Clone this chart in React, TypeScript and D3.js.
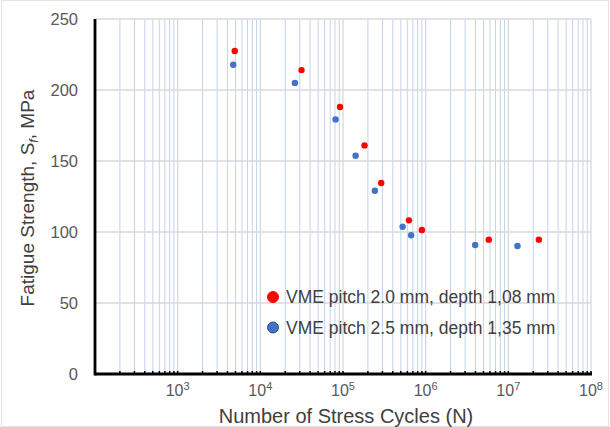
import React, { useRef, useEffect } from 'react';
import * as d3 from 'd3';

// series 1 (red)
const redName = 'VME pitch 2.0 mm, depth 1,08 mm';
const redCycles = [4900, 31500, 92000, 182000, 290000, 627000, 900000, 5800000, 23400000];
const redStrength = [227.5, 214, 188, 161, 134.5, 108.2, 101.4, 94.6, 94.6];

// series 2 (blue)
const blueName = 'VME pitch 2.5 mm, depth 1,35 mm';
const blueCycles = [4700, 26200, 81300, 142000, 243000, 526000, 668000, 3970000, 12900000];
const blueStrength = [217.8, 205, 179.3, 153.7, 129.1, 103.7, 97.7, 90.8, 90.1];

const yTicks = [0, 50, 100, 150, 200, 250];
const xDecadeExps = [3, 4, 5, 6, 7, 8];

const font = 'Liberation Sans, Arial, sans-serif';

const App = () => {
  const chartRef = useRef<SVGSVGElement | null>(null);

  useEffect(() => {
    if (!chartRef.current) return;
    const svg = d3.select(chartRef.current);
    svg.selectAll('*').remove();

    const width = 610;
    const height = 427;
    const margin = { top: 19, right: 19, bottom: 53, left: 95 };

    const x = d3.scaleLog()
      .domain([1e2, 1e8])
      .range([margin.left, width - margin.right]);
    const y = d3.scaleLinear()
      .domain([0, 250])
      .range([height - margin.bottom, margin.top]);

    // outer chart border
    svg.append('rect')
      .attr('x', 1.5).attr('y', 0.5)
      .attr('width', width - 3).attr('height', height - 1)
      .attr('fill', 'white')
      .attr('stroke', '#e3e3e3');

    const allTicks = x.ticks();
    const minor = allTicks.filter(t => {
      const e = Math.log10(t);
      return Math.abs(e - Math.round(e)) > 1e-6;
    });
    const major = allTicks.filter(t => !minor.includes(t) && t > 1e2);

    // minor vertical grid (light blue)
    svg.append('g').selectAll('line')
      .data(minor)
      .join('line')
      .attr('x1', d => x(d)).attr('x2', d => x(d))
      .attr('y1', y(250)).attr('y2', y(0))
      .attr('stroke', '#c2d3ee')
      .attr('stroke-width', 1);

    // horizontal grid
    svg.append('g').selectAll('line')
      .data(yTicks.filter(t => t > 0))
      .join('line')
      .attr('x1', x(1e2)).attr('x2', x(1e8))
      .attr('y1', d => y(d)).attr('y2', d => y(d))
      .attr('stroke', '#d9d9d9')
      .attr('stroke-width', 1.3);

    // major vertical grid
    svg.append('g').selectAll('line')
      .data(major)
      .join('line')
      .attr('x1', d => x(d)).attr('x2', d => x(d))
      .attr('y1', y(250)).attr('y2', y(0))
      .attr('stroke', '#d9d9d9')
      .attr('stroke-width', 1.3);

    // little tick marks along the bottom axis
    svg.append('g').selectAll('line')
      .data(allTicks.filter(t => t > 1e2))
      .join('line')
      .attr('x1', d => x(d)).attr('x2', d => x(d))
      .attr('y1', y(0) - 3).attr('y2', y(0))
      .attr('stroke', '#000')
      .attr('stroke-width', 1.5);

    // axis lines
    svg.append('line')
      .attr('x1', x(1e2)).attr('x2', x(1e8) + 1)
      .attr('y1', y(0)).attr('y2', y(0))
      .attr('stroke', '#000').attr('stroke-width', 2.8);
    svg.append('line')
      .attr('x1', x(1e2)).attr('x2', x(1e2))
      .attr('y1', y(250)).attr('y2', y(0) + 1.4)
      .attr('stroke', '#000').attr('stroke-width', 2.8);

    // y tick labels
    svg.append('g').selectAll('text')
      .data(yTicks)
      .join('text')
      .attr('x', 78)
      .attr('y', d => y(d))
      .attr('dy', '0.35em')
      .attr('text-anchor', 'end')
      .style('font-family', font)
      .style('font-size', '16.5px')
      .attr('fill', '#595959')
      .text(d => d);

    // x tick labels 10^n
    const xl = svg.append('g').selectAll('text')
      .data(xDecadeExps)
      .join('text')
      .attr('x', d => x(Math.pow(10, d)))
      .attr('y', 396)
      .attr('text-anchor', 'middle')
      .style('font-family', font)
      .style('font-size', '16px')
      .attr('fill', '#595959');
    xl.append('tspan').text('10');
    xl.append('tspan').attr('dy', -6).style('font-size', '11px').text(d => d);

    // data points
    const drawSeries = (xs: number[], ys: number[], color: string) => {
      svg.append('g').selectAll('circle')
        .data(xs.map((v, i) => [v, ys[i]]))
        .join('circle')
        .attr('cx', d => x(d[0]))
        .attr('cy', d => y(d[1]))
        .attr('r', 3.2)
        .attr('fill', color);
    };
    drawSeries(blueCycles, blueStrength, '#4472c4');
    drawSeries(redCycles, redStrength, '#ff0000');

    // legend
    const legend = [
      { name: redName, color: '#ff0000', stroke: '#ff0000' },
      { name: blueName, color: '#4472c4', stroke: '#2f528f' },
    ];
    const lg = svg.append('g').attr('transform', 'translate(273,297)');
    legend.forEach((item, i) => {
      const row = lg.append('g').attr('transform', `translate(0,${i * 30.5})`);
      row.append('circle')
        .attr('r', 5.5)
        .attr('fill', item.color)
        .attr('stroke', item.stroke)
        .attr('stroke-width', 1);
      row.append('text')
        .attr('x', 13)
        .attr('y', 6)
        .style('font-family', font)
        .style('font-size', '17.5px')
        .attr('fill', '#404040')
        .text(item.name);
    });

    // y axis title
    const yt = svg.append('text')
      .attr('transform', 'translate(34,198) rotate(-90)')
      .attr('text-anchor', 'middle')
      .style('font-family', font)
      .style('font-size', '19px')
      .attr('fill', '#404040');
    yt.append('tspan').text('Fatigue Strength, S');
    yt.append('tspan').attr('dy', 4).style('font-size', '12.5px').style('font-style', 'italic').text('f');
    yt.append('tspan').attr('dy', -4).text(', MPa');

    // x axis title
    svg.append('text')
      .attr('x', 346)
      .attr('y', 423)
      .attr('text-anchor', 'middle')
      .style('font-family', font)
      .style('font-size', '20px')
      .attr('fill', '#404040')
      .text('Number of Stress Cycles (N)');
  }, []);

  return (
    <svg
      ref={chartRef}
      width="610"
      height="427"
      style={{ position: 'absolute', left: 0, top: 0, background: 'white' }}
    ></svg>
  );
};

export default App;
